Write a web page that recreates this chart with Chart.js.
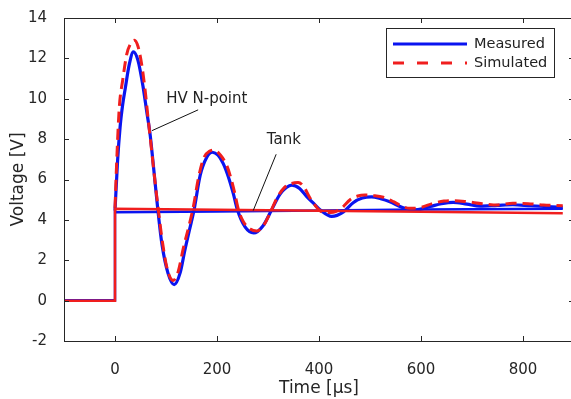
<!DOCTYPE html>
<html>
<head>
<meta charset="utf-8">
<script src="https://cdn.jsdelivr.net/npm/chart.js@4.4.1/dist/chart.umd.min.js"></script>
<style>
  html, body { margin: 0; padding: 0; background: #fff; overflow: hidden; }
  #wrap { position: relative; width: 580px; height: 399px; }
</style>
</head>
<body>
<div id="wrap"><canvas id="chart"></canvas></div>
<script>
// HV N-point, measured (µs, V)
const hvTime = [0, 5, 10, 15, 20, 28, 36, 45, 55, 62, 69, 76, 84, 92, 104, 116, 128, 137, 146, 155,
  167, 180, 191, 202, 212, 222, 232, 240, 255, 272, 290, 307, 323, 336, 347, 362, 376, 390, 402,
  425, 448, 467, 485, 503, 521, 539, 565, 588, 618, 640, 663, 690, 716, 750, 780, 815, 847, 878];
const hvMeasured = [4.45, 6.9, 8.6, 9.7, 10.5, 11.7, 12.32, 11.9, 10.6, 9.4, 8.2, 6.5, 4.5, 2.8, 1.35, 0.79, 1.4, 2.5, 3.5, 4.49,
  6.2, 7.1, 7.35, 7.2, 6.8, 6.15, 5.3, 4.5, 3.65, 3.35, 3.7, 4.49, 5.25, 5.6, 5.72, 5.55, 5.15, 4.8, 4.5,
  4.17, 4.4, 4.85, 5.08, 5.14, 5.05, 4.9, 4.6, 4.49, 4.66, 4.8, 4.87, 4.78, 4.68, 4.72, 4.75, 4.7, 4.66, 4.62];

// HV N-point, simulated
const hvSimTime = [0, 4, 8.5, 15, 23, 30, 38, 45, 52, 59, 65, 72, 78, 85, 93, 103, 114, 124, 134, 145,
  154, 163, 173, 185, 195, 207, 219, 228, 235, 242, 252, 265, 278, 292, 305, 318, 332, 346, 359, 370,
  382, 393, 402, 415, 428, 445, 461, 476, 490, 508, 526, 546, 562, 578, 600, 624, 645, 665, 690, 720,
  750, 780, 810, 840, 878];
const hvSimulated = [4.6, 7.3, 9.6, 10.9, 12.2, 12.7, 12.9, 12.6, 11.75, 10.44, 9.0, 7.4, 6.0, 4.5, 2.9, 1.5, 1.0, 1.45, 2.6, 3.7,
  4.7, 6.0, 7.0, 7.4, 7.45, 7.2, 6.7, 6.0, 5.3, 4.5, 3.9, 3.55, 3.45, 3.75, 4.4, 5.1, 5.6, 5.8, 5.85, 5.65,
  5.1, 4.7, 4.45, 4.36, 4.38, 4.6, 5.0, 5.18, 5.23, 5.2, 5.12, 4.9, 4.68, 4.57, 4.62, 4.82, 4.93, 4.95, 4.9, 4.8,
  4.74, 4.82, 4.8, 4.74, 4.7];

// Tank, measured and simulated
const tankTime = [-100, 0, 0, 200, 400, 600, 878];
const tankMeasured = [0.02, 0.02, 4.38, 4.42, 4.47, 4.52, 4.55];
const tankSimulated = [0, 0, 4.55, 4.5, 4.45, 4.4, 4.33];

const xTicks = [0, 200, 400, 600, 800];
const yTicks = [-2, 0, 2, 4, 6, 8, 10, 12, 14];
const legendLabels = ["Measured", "Simulated"];

const BLUE = "#0a14f0";
const RED = "#f01e1e";
const INK = "#262626";
const FONT = "DejaVu Sans";

// labels with a pointer line, in data coordinates
const notes = [
  { text: "HV N-point", x: 180, y: 10.0, from: [163, 9.45], to: [72.5, 8.42] },
  { text: "Tank", x: 331, y: 7.93, from: [316, 7.25], to: [271, 4.46] },
];

function toPoints(xs, ys) {
  return xs.map((x, i) => ({ x, y: ys[i] }));
}

const framePlugin = {
  id: "frame",
  afterDraw(chart) {
    const { ctx, chartArea: a, scales } = chart;
    const x = scales.x;
    const y = scales.y;
    ctx.save();
    ctx.strokeStyle = INK;
    ctx.lineWidth = 1;
    ctx.strokeRect(a.left + 0.5, a.top + 0.5, a.right - a.left, a.bottom - a.top);

    ctx.beginPath();
    for (const v of xTicks) {
      const px = Math.round(x.getPixelForValue(v)) + 0.5;
      ctx.moveTo(px, a.bottom);
      ctx.lineTo(px, a.bottom - 5);
      ctx.moveTo(px, a.top);
      ctx.lineTo(px, a.top + 5);
    }
    for (const v of yTicks) {
      const py = Math.round(y.getPixelForValue(v)) + 0.5;
      ctx.moveTo(a.left, py);
      ctx.lineTo(a.left + 5, py);
      ctx.moveTo(a.right, py);
      ctx.lineTo(a.right - 5, py);
    }
    ctx.stroke();

    // annotations
    ctx.fillStyle = "#222";
    ctx.font = `15px "${FONT}"`;
    ctx.textAlign = "center";
    ctx.textBaseline = "middle";
    for (const n of notes) {
      ctx.fillText(n.text, x.getPixelForValue(n.x), y.getPixelForValue(n.y));
      ctx.beginPath();
      ctx.moveTo(x.getPixelForValue(n.from[0]), y.getPixelForValue(n.from[1]));
      ctx.lineTo(x.getPixelForValue(n.to[0]), y.getPixelForValue(n.to[1]));
      ctx.strokeStyle = "#111";
      ctx.lineWidth = 1;
      ctx.stroke();
    }

    // legend box
    const bx = 386.5, by = 28.5, bw = 168, bh = 49;
    ctx.fillStyle = "#fff";
    ctx.fillRect(bx, by, bw, bh);
    ctx.strokeStyle = INK;
    ctx.strokeRect(bx, by, bw, bh);
    const rows = [
      { label: legendLabels[0], color: BLUE, dash: [], y: 44 },
      { label: legendLabels[1], color: RED, dash: [11, 13], y: 63 },
    ];
    for (const r of rows) {
      ctx.beginPath();
      ctx.setLineDash(r.dash);
      ctx.strokeStyle = r.color;
      ctx.lineWidth = 3;
      ctx.moveTo(393, r.y);
      ctx.lineTo(467, r.y);
      ctx.stroke();
      ctx.setLineDash([]);
      ctx.fillStyle = "#222";
      ctx.font = `14.5px "${FONT}"`;
      ctx.textAlign = "left";
      ctx.fillText(r.label, 474, r.y);
    }
    ctx.restore();
  },
};

new Chart(document.getElementById("chart"), {
  type: "line",
  data: {
    datasets: [
      {
        label: "HV simulated",
        data: toPoints(hvSimTime, hvSimulated),
        borderColor: RED,
        borderWidth: 3,
        borderDash: [11, 6],
        cubicInterpolationMode: "monotone",
        pointRadius: 0,
        order: 0,
      },
      {
        label: "Tank simulated",
        data: toPoints(tankTime, tankSimulated),
        borderColor: RED,
        borderWidth: 2.5,
        tension: 0,
        pointRadius: 0,
        order: 1,
      },
      {
        label: "HV measured",
        data: toPoints(hvTime, hvMeasured),
        borderColor: BLUE,
        borderWidth: 3.2,
        cubicInterpolationMode: "monotone",
        pointRadius: 0,
        order: 2,
      },
      {
        label: "Tank measured",
        data: toPoints(tankTime, tankMeasured),
        borderColor: BLUE,
        borderWidth: 2.5,
        tension: 0,
        pointRadius: 0,
        order: 3,
      },
    ],
  },
  options: {
    responsive: true,
    maintainAspectRatio: false,
    devicePixelRatio: 1,
    animation: false,
    layout: { padding: { left: 0, right: 6, top: 14, bottom: 0 } },
    plugins: { legend: { display: false }, tooltip: { enabled: false } },
    scales: {
      x: {
        type: "linear",
        min: -100,
        max: 900,
        grid: { display: false },
        border: { display: false },
        afterBuildTicks: (scale) => { scale.ticks = xTicks.map((v) => ({ value: v })); },
        afterFit: (scale) => { scale.height = 58; },
        ticks: { color: INK, font: { family: FONT, size: 15 }, padding: 12, maxRotation: 0 },
        title: {
          display: true,
          text: "Time [µs]",
          color: INK,
          font: { family: FONT, size: 17 },
          padding: { top: 3, bottom: 0 },
        },
      },
      y: {
        type: "linear",
        min: -2,
        max: 14,
        grid: { display: false },
        border: { display: false },
        afterBuildTicks: (scale) => { scale.ticks = yTicks.map((v) => ({ value: v })); },
        afterFit: (scale) => { scale.width = 64; },
        ticks: { color: INK, font: { family: FONT, size: 15 }, padding: 9 },
        title: {
          display: true,
          text: "Voltage [V]",
          color: INK,
          font: { family: FONT, size: 17 },
          padding: { top: 8, bottom: 0 },
        },
      },
    },
  },
  plugins: [framePlugin],
});
</script>
</body>
</html>
